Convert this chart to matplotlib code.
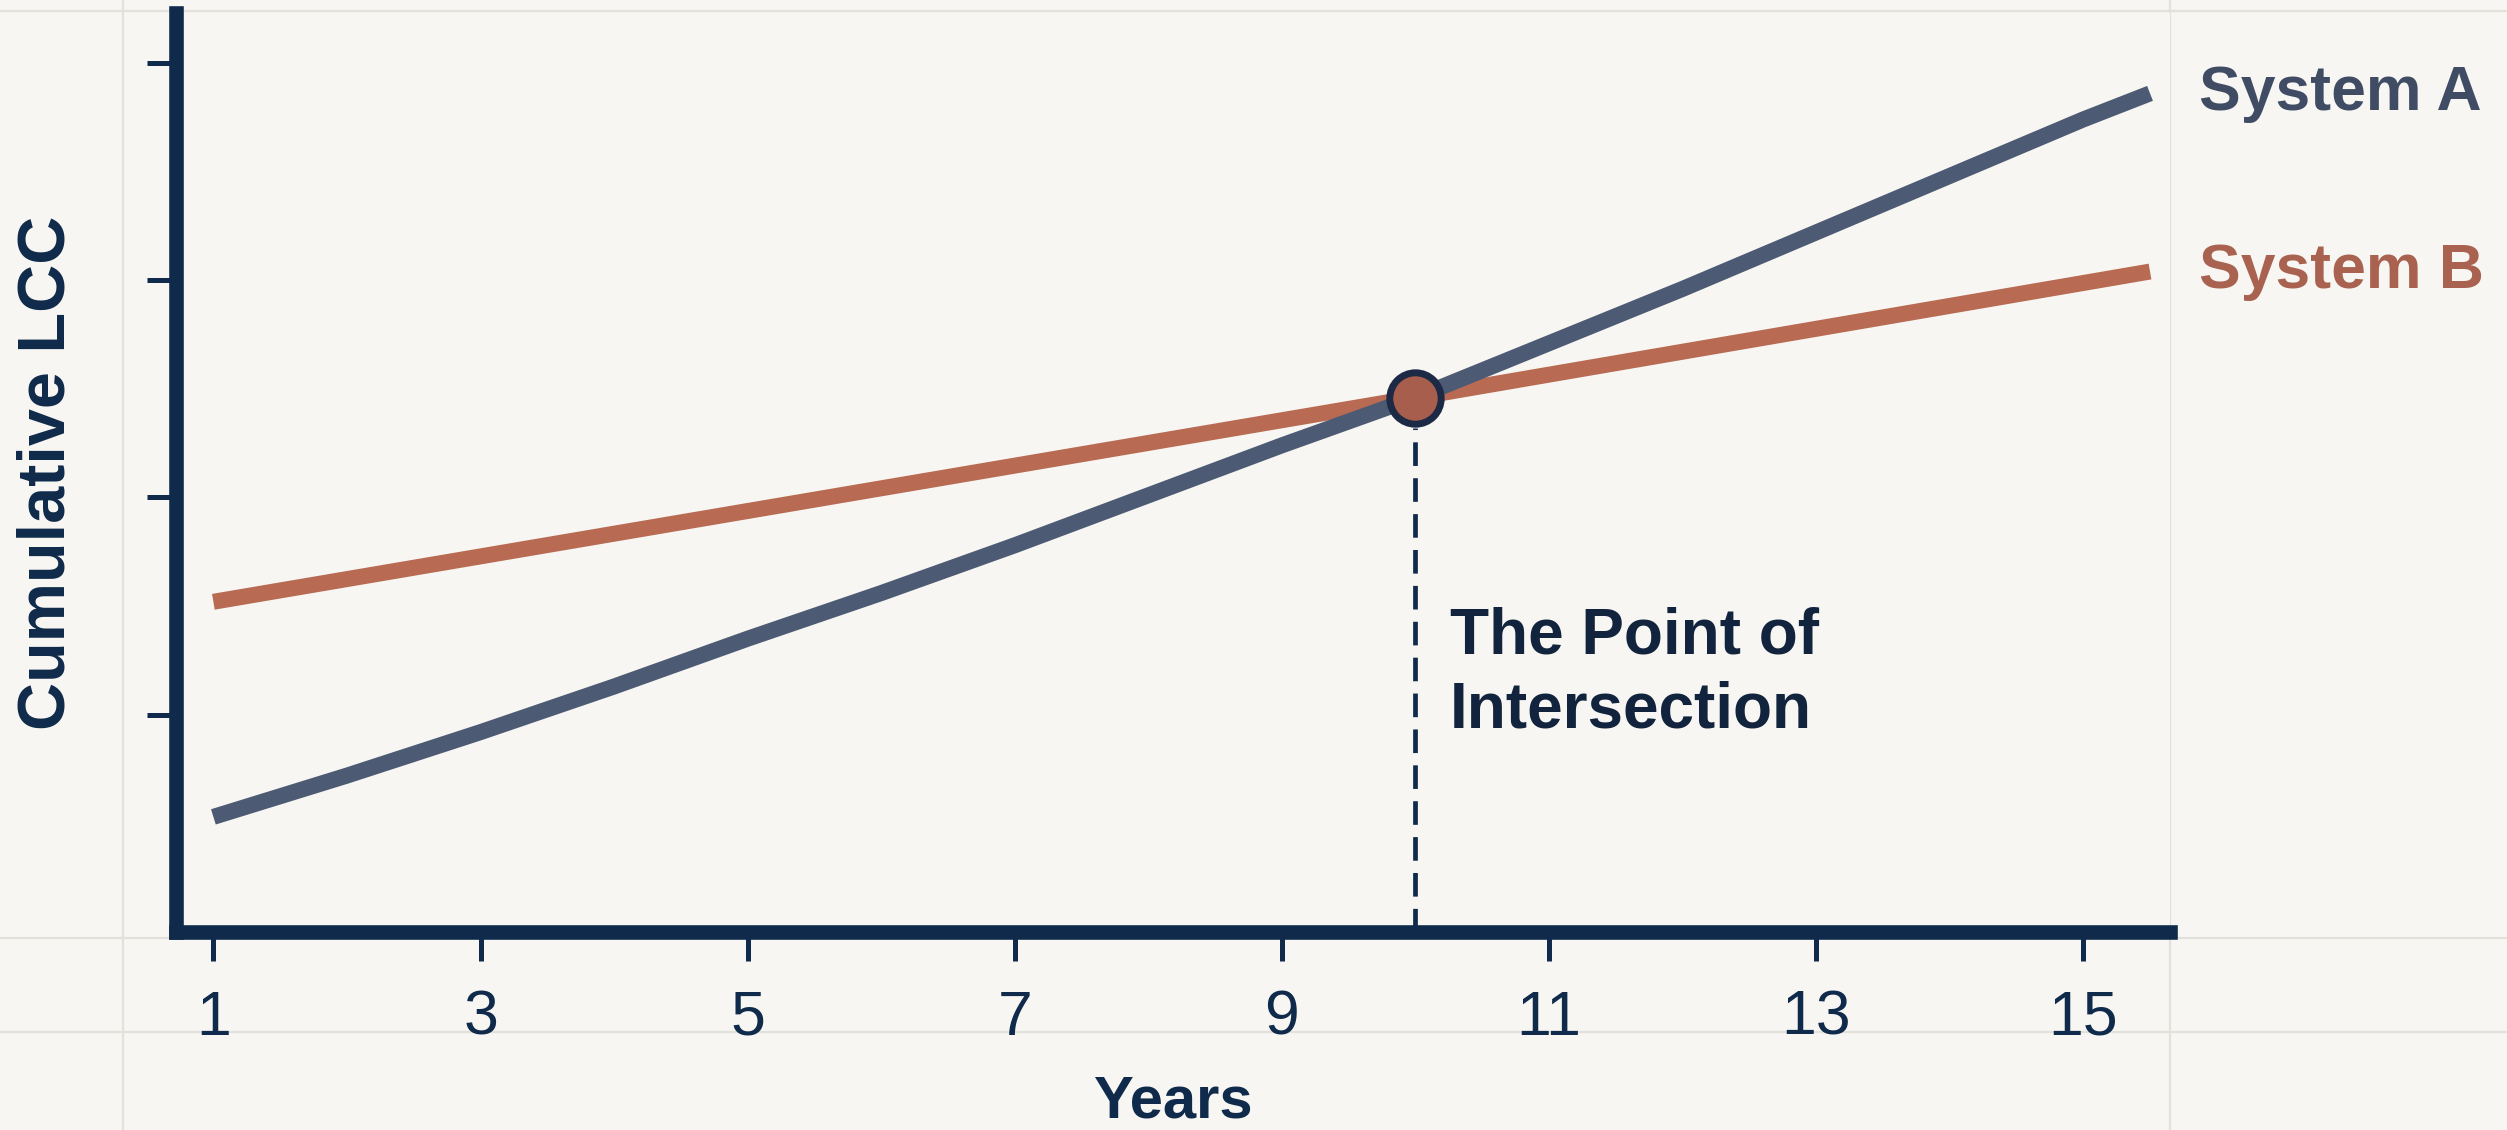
import matplotlib

matplotlib.use("Agg")

import matplotlib.pyplot as plt
from matplotlib.lines import Line2D

# values (arbitrary cost units)
years_a = [1, 2, 3, 4, 5, 6, 7, 8, 9, 10, 11, 12, 13, 14, 15, 15.5]
system_a = [0.53, 0.72, 0.92, 1.13, 1.35, 1.56, 1.78, 2.01, 2.24, 2.46,
            2.71, 2.96, 3.22, 3.48, 3.74, 3.86]

years_b = [1, 10, 15.5]
system_b = [1.52, 2.46, 3.04]

cross_year = 10
cross_value = 2.46

x_ticks = [1, 3, 5, 7, 9, 11, 13, 15]
y_ticks = [1, 2, 3, 4]

NAVY = "#0f2a4a"
COLOR_A = "#4c5a73"
COLOR_B = "#b86b52"
BG = "#f7f6f2"
PAPER_LINE = "#e3e1db"

plt.rcParams["font.family"] = ["Liberation Sans", "DejaVu Sans"]

fig = plt.figure(figsize=(25.07, 11.30), dpi=100, facecolor=BG)
ax = fig.add_axes([0.0702, 0.1752, 0.7954, 0.8133])
ax.set_facecolor(BG)

# faint paper lines behind the chart
for y in [0.990, 0.170, 0.087]:
    fig.add_artist(Line2D([0, 1], [y, y], color=PAPER_LINE, lw=1.6, zorder=0))
for x in [0.049, 0.8656]:
    fig.add_artist(Line2D([x, x], [0, 1], color=PAPER_LINE, lw=1.6, zorder=0))

ax.plot(years_b, system_b, color=COLOR_B, lw=11.5, solid_capstyle="butt", zorder=3)
ax.plot(years_a, system_a, color=COLOR_A, lw=11.5, solid_capstyle="butt",
        solid_joinstyle="round", zorder=4)

ax.plot([cross_year, cross_year], [0, cross_value - 0.14], color=NAVY, lw=3.4,
        dashes=(5, 2.6), zorder=2)
ax.plot(cross_year, cross_value, "o", ms=37, mfc="#a85e4c", mec="#1c2a45",
        mew=5, zorder=5)

ax.text(cross_year + 0.26, 1.19, "The Point of\nIntersection", fontsize=46,
        fontweight="bold", color="#12233d", va="center", ha="left",
        linespacing=1.3)

ax.text(15.87, system_a[-1], "System A", fontsize=45, fontweight="bold",
        color="#3f4c63", va="center", ha="left", clip_on=False)
ax.text(15.87, system_b[-1], "System B", fontsize=45, fontweight="bold",
        color="#a9624f", va="center", ha="left", clip_on=False)

ax.set_xlim(0.72, 15.65)
ax.set_ylim(0, 4.23)

ax.set_xticks(x_ticks)
ax.set_xticklabels([str(t) for t in x_ticks])
ax.set_yticks(y_ticks)
ax.set_yticklabels([])

ax.tick_params(axis="x", length=21, width=3.6, color=NAVY, labelsize=45,
               labelcolor=NAVY, pad=20)
ax.tick_params(axis="y", length=21, width=3.6, color=NAVY)

for side in ["top", "right"]:
    ax.spines[side].set_visible(False)
for side in ["left", "bottom"]:
    ax.spines[side].set_color(NAVY)
    ax.spines[side].set_linewidth(10.5)
    ax.spines[side].set_capstyle("projecting")

ax.set_xlabel("Years", fontsize=43, fontweight="bold", color=NAVY, labelpad=19)
ax.set_ylabel("Cumulative LCC", fontsize=48, fontweight="bold", color=NAVY,
              labelpad=46)

fig.savefig("out.png", dpi=100, facecolor=BG)
